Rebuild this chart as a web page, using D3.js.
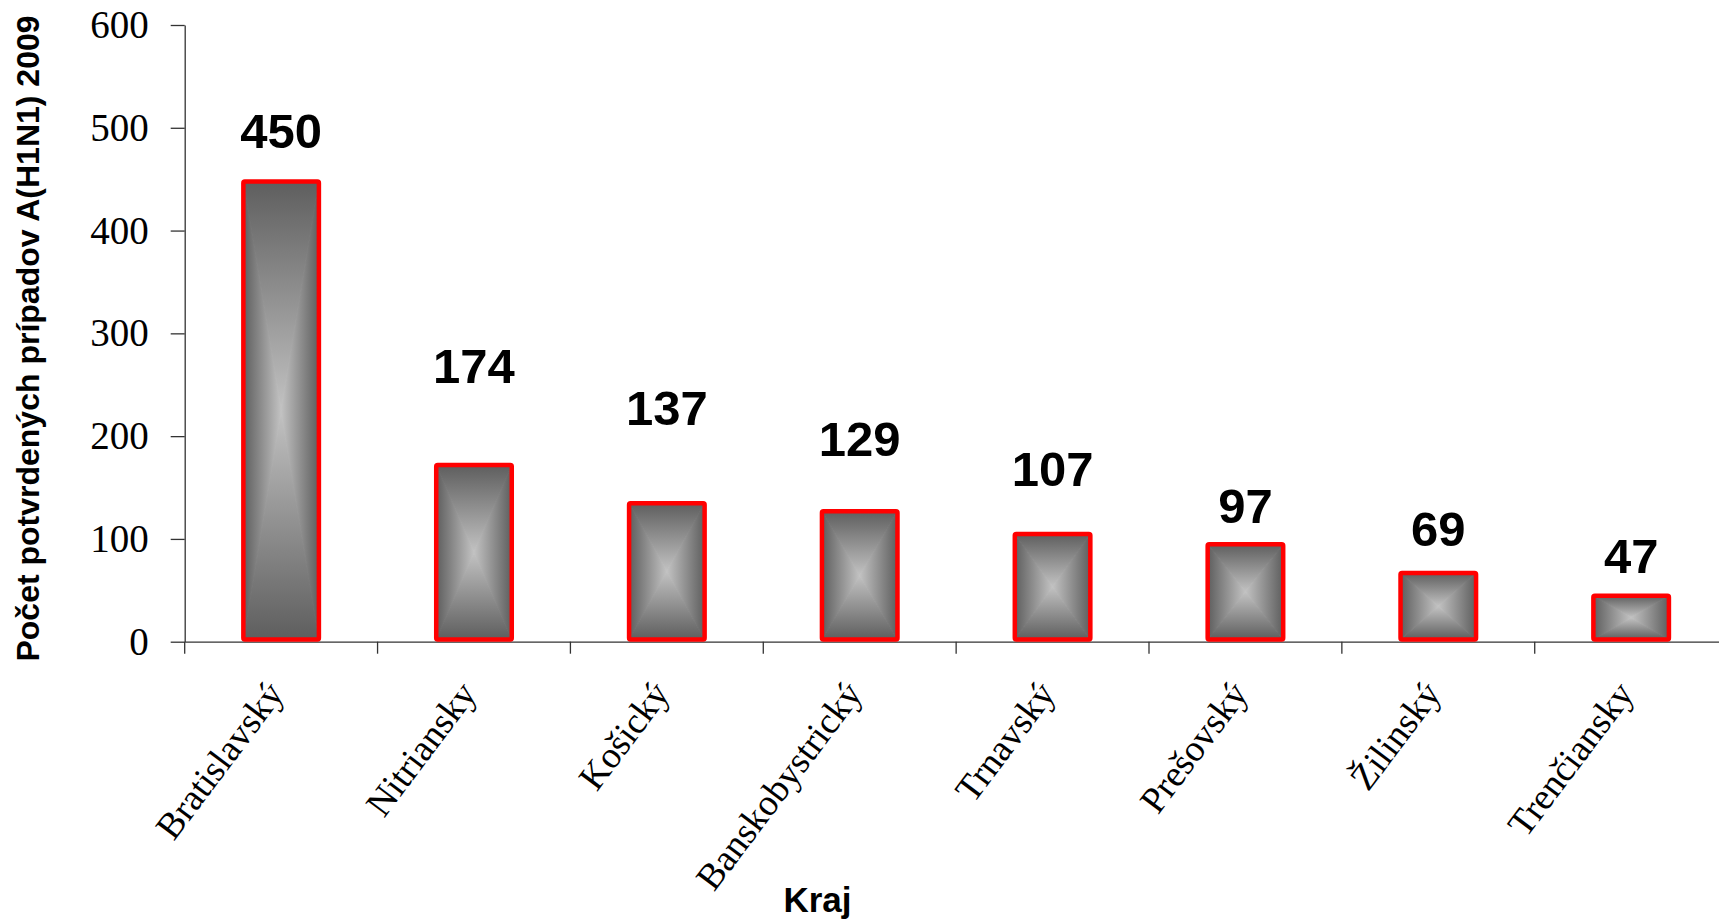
<!DOCTYPE html>
<html>
<head>
<meta charset="utf-8">
<script src="https://cdn.jsdelivr.net/npm/d3@7"></script>
<style>
  html, body { margin: 0; padding: 0; background: #fff; }
  svg { display: block; }
</style>
</head>
<body>
<svg id="chart" width="1719" height="919"></svg>
<script>
// ---- data ----
const categories = ["Bratislavský", "Nitriansky", "Košický", "Banskobystrický", "Trnavský", "Prešovský", "Žilinský", "Trenčiansky"];
const values = [450, 174, 137, 129, 107, 97, 69, 47];
const yTicks = [0, 100, 200, 300, 400, 500, 600];
const yTitle = "Počet potvrdených prípadov A(H1N1) 2009";
const xTitle = "Kraj";

// ---- layout ----
const svg = d3.select("#chart");
const x0 = 184.7, y0 = 641.7, yTop = 25, bandW = 192.86;
const x = d3.scaleBand().domain(categories).range([x0, x0 + bandW * categories.length]).padding(0);
const y = d3.scaleLinear().domain([0, 600]).range([y0, yTop]);

// manual label lift (in value units) as placed in the original chart
const labelLift = [30.6, 77.4, 73.8, 51.7, 44.5, 18.2, 24.1, 20.1];

const dark = "#5e5e5e", light = "#c2c2c2";
const defs = svg.append("defs");
function grad(id, x1, y1, x2, y2, c1, c2) {
  const g = defs.append("linearGradient").attr("id", id)
    .attr("x1", x1).attr("y1", y1).attr("x2", x2).attr("y2", y2);
  g.append("stop").attr("offset", "0").attr("stop-color", c1);
  g.append("stop").attr("offset", "1").attr("stop-color", c2);
}
grad("gTop", 0, 0, 0, 1, dark, light);
grad("gBottom", 0, 0, 0, 1, light, dark);
grad("gLeft", 0, 0, 1, 0, dark, light);
grad("gRight", 0, 0, 1, 0, light, dark);

// ---- axes ----
const yAxis = d3.axisLeft(y).tickValues(yTicks).tickSize(14).tickSizeOuter(0).tickPadding(22);
const gy = svg.append("g").attr("transform", `translate(${x0},0)`).call(yAxis);
gy.selectAll("path.domain").attr("stroke", "#333").attr("stroke-width", 1.3);
gy.selectAll(".tick line").attr("stroke", "#333").attr("stroke-width", 1.3);
gy.selectAll(".tick text")
  .attr("fill", "#000")
  .style("font-family", "'Liberation Serif', 'Times New Roman', serif")
  .style("font-size", "39px");

const xAxis = d3.axisBottom(x).tickSize(0).tickSizeOuter(0).tickFormat("");
const gx = svg.append("g").attr("transform", `translate(0,${y0})`).call(xAxis);
gx.selectAll("path.domain").attr("stroke", "#333").attr("stroke-width", 1.3);
gx.selectAll(".tick").remove();

// boundary ticks between categories
svg.append("g").selectAll("line").data(categories).join("line")
  .attr("x1", d => x(d)).attr("x2", d => x(d))
  .attr("y1", y0).attr("y2", y0 + 12)
  .attr("stroke", "#333").attr("stroke-width", 1.3);

// ---- bars ----
const sw = 4.5;
const barOuter = bandW * 0.415;
const bars = svg.append("g").selectAll("g").data(values).join("g");
bars.each(function(v, i) {
  const g = d3.select(this);
  const cx = x(categories[i]) + x.bandwidth() / 2;
  const left = cx - barOuter / 2 + sw / 2, right = cx + barOuter / 2 - sw / 2;
  const top = y(v) + sw / 2, bottom = y(0) - sw / 2;
  const mx = (left + right) / 2, my = (top + bottom) / 2;
  const tri = [
    [`M${left},${top}L${right},${top}L${mx},${my}Z`, "gTop"],
    [`M${left},${bottom}L${right},${bottom}L${mx},${my}Z`, "gBottom"],
    [`M${left},${top}L${left},${bottom}L${mx},${my}Z`, "gLeft"],
    [`M${right},${top}L${right},${bottom}L${mx},${my}Z`, "gRight"]
  ];
  tri.forEach(([d, id]) => {
    g.append("path").attr("d", d)
      .attr("fill", `url(#${id})`)
      .attr("stroke", `url(#${id})`).attr("stroke-width", 1)
      .attr("stroke-linejoin", "round");
  });
  g.append("rect")
    .attr("x", left).attr("y", top)
    .attr("width", right - left).attr("height", bottom - top)
    .attr("rx", 1.5)
    .attr("fill", "none").attr("stroke", "#ff0000").attr("stroke-width", sw);
});

// ---- value labels ----
svg.append("g").selectAll("text").data(values).join("text")
  .attr("x", (v, i) => x(categories[i]) + x.bandwidth() / 2)
  .attr("y", (v, i) => y(v + labelLift[i]))
  .attr("text-anchor", "middle")
  .style("font-family", "'Liberation Sans', Arial, sans-serif")
  .style("font-weight", "bold")
  .style("font-size", "49px")
  .text(v => v);

// ---- category labels ----
svg.append("g").selectAll("text").data(categories).join("text")
  .attr("transform", d => `translate(${x(d) + x.bandwidth() / 2 + 4},694) rotate(-53)`)
  .attr("text-anchor", "end")
  .style("font-family", "'Liberation Serif', 'Times New Roman', serif")
  .style("font-size", "37px")
  .text(d => d);

// ---- axis titles ----
svg.append("text")
  .attr("transform", "translate(39,338.5) rotate(-90)")
  .attr("text-anchor", "middle")
  .style("font-family", "'Liberation Sans', Arial, sans-serif")
  .style("font-weight", "bold")
  .style("font-size", "32px")
  .text(yTitle);

svg.append("text")
  .attr("x", 817.5).attr("y", 911.7)
  .attr("text-anchor", "middle")
  .style("font-family", "'Liberation Sans', Arial, sans-serif")
  .style("font-weight", "bold")
  .style("font-size", "35px")
  .text(xTitle);
</script>
</body>
</html>
